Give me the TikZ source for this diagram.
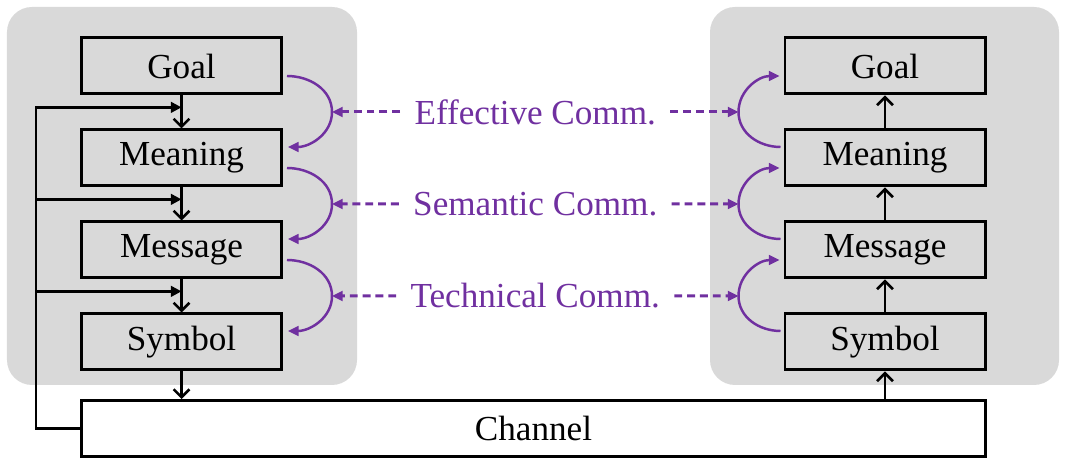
\documentclass[tikz,border=0pt]{standalone}
\usepackage{fontspec}
\setmainfont{Liberation Serif}
\usetikzlibrary{arrows.meta,calc}

\definecolor{panelgray}{HTML}{D9D9D9}
\definecolor{commpurple}{HTML}{7030A0}

\begin{document}
\begin{tikzpicture}[
    layer/.style={draw, line width=1.7pt, fill=panelgray, minimum width=4cm, minimum height=1.12cm, font=\fontsize{20}{24}\selectfont},
    flow/.style={line width=1.5pt, -{Straight Barb[length=4.5pt,width=9pt]}},
    feed/.style={line width=1.4pt, -{Triangle[length=6pt,width=6pt]}},
    comm/.style={commpurple, line width=1.4pt, -{Triangle[length=6pt,width=5.5pt]}},
    commlink/.style={comm, line width=1.7pt, dash pattern=on 4.5pt off 2.8pt},
    commtext/.style={text=commpurple, font=\fontsize{20}{24}\selectfont, inner xsep=8pt}
  ]
  \useasboundingbox (0, 0) rectangle (21.38, 9.3);
  \fill[panelgray, rounded corners=0.5cm] (0.14, 1.6) rectangle (7.14, 9.16);
  \fill[panelgray, rounded corners=0.5cm] (14.2, 1.6) rectangle (21.18, 9.16);

  % sender side
  \node [layer] (lgoal) at (3.63, 7.98) {Goal};
  \node [layer] (lmean) at (3.63, 6.14) {Meaning};
  \node [layer] (lmsg) at (3.63, 4.30) {Message};
  \node [layer] (lsym) at (3.63, 2.46) {Symbol};

  % receiver side
  \node [layer] (rgoal) at (17.70, 7.98) {Goal};
  \node [layer] (rmean) at (17.70, 6.14) {Meaning};
  \node [layer] (rmsg) at (17.70, 4.30) {Message};
  \node [layer] (rsym) at (17.70, 2.46) {Symbol};

  \node [layer, fill=white, minimum width=18.08cm] (chan) at (10.67, 0.73) {Channel};

  \draw [flow] (lgoal) -- (lmean);
  \draw [flow] (lmean) -- (lmsg);
  \draw [flow] (lmsg) -- (lsym);
  \draw [flow] (lsym) -- (lsym |- chan.north);

  \draw [flow] (rsym |- chan.north) -- (rsym);
  \draw [flow] (rsym) -- (rmsg);
  \draw [flow] (rmsg) -- (rmean);
  \draw [flow] (rmean) -- (rgoal);

  % feedback from the channel
  \coordinate (lj1) at ($(lgoal.south)!0.36!(lmean.north)$);
  \coordinate (lj2) at ($(lmean.south)!0.36!(lmsg.north)$);
  \coordinate (lj3) at ($(lmsg.south)!0.36!(lsym.north)$);
  \coordinate (fbx) at ($(chan.west) + (-0.88, 0)$);
  \draw [feed] (chan.west) -- (fbx) |- (lj1);
  \draw [feed] (fbx |- lj2) -- (lj2);
  \draw [feed] (fbx |- lj3) -- (lj3);

  % levels of communication
  \coordinate (lpk1) at ($(lgoal.east)!0.5!(lmean.east) + (0.98, 0)$);
  \coordinate (lpk2) at ($(lmean.east)!0.5!(lmsg.east) + (0.98, 0)$);
  \coordinate (lpk3) at ($(lmsg.east)!0.5!(lsym.east) + (0.98, 0)$);
  \coordinate (rpk1) at ($(rgoal.west)!0.5!(rmean.west) + (-0.9, 0)$);
  \coordinate (rpk2) at ($(rmean.west)!0.5!(rmsg.west) + (-0.9, 0)$);
  \coordinate (rpk3) at ($(rmsg.west)!0.5!(rsym.west) + (-0.9, 0)$);

  \draw [comm] ([shift={(0.08, -0.2)}] lgoal.east) to[out=0, in=90] (lpk1) to[out=-90, in=0] ([shift={(0.1, 0.22)}] lmean.east);
  \draw [comm] ([shift={(0.08, -0.2)}] lmean.east) to[out=0, in=90] (lpk2) to[out=-90, in=0] ([shift={(0.1, 0.22)}] lmsg.east);
  \draw [comm] ([shift={(0.08, -0.2)}] lmsg.east) to[out=0, in=90] (lpk3) to[out=-90, in=0] ([shift={(0.1, 0.22)}] lsym.east);

  \draw [comm] ([shift={(-0.06, 0.22)}] rmean.west) to[out=180, in=-90] (rpk1) to[out=90, in=180] ([shift={(-0.08, -0.2)}] rgoal.west);
  \draw [comm] ([shift={(-0.06, 0.22)}] rmsg.west) to[out=180, in=-90] (rpk2) to[out=90, in=180] ([shift={(-0.08, -0.2)}] rmean.west);
  \draw [comm] ([shift={(-0.06, 0.22)}] rsym.west) to[out=180, in=-90] (rpk3) to[out=90, in=180] ([shift={(-0.08, -0.2)}] rmsg.west);

  \node [commtext] (eff) at ($(lpk1)!0.5!(rpk1)$) {Effective Comm.};
  \node [commtext] (sem) at ($(lpk2)!0.5!(rpk2)$) {Semantic Comm.};
  \node [commtext] (tech) at ($(lpk3)!0.5!(rpk3)$) {Technical Comm.};

  \draw [commlink] (eff) -- (lpk1);
  \draw [commlink] (eff) -- (rpk1);
  \draw [commlink] (sem) -- (lpk2);
  \draw [commlink] (sem) -- (rpk2);
  \draw [commlink] (tech) -- (lpk3);
  \draw [commlink] (tech) -- (rpk3);
\end{tikzpicture}
\end{document}
